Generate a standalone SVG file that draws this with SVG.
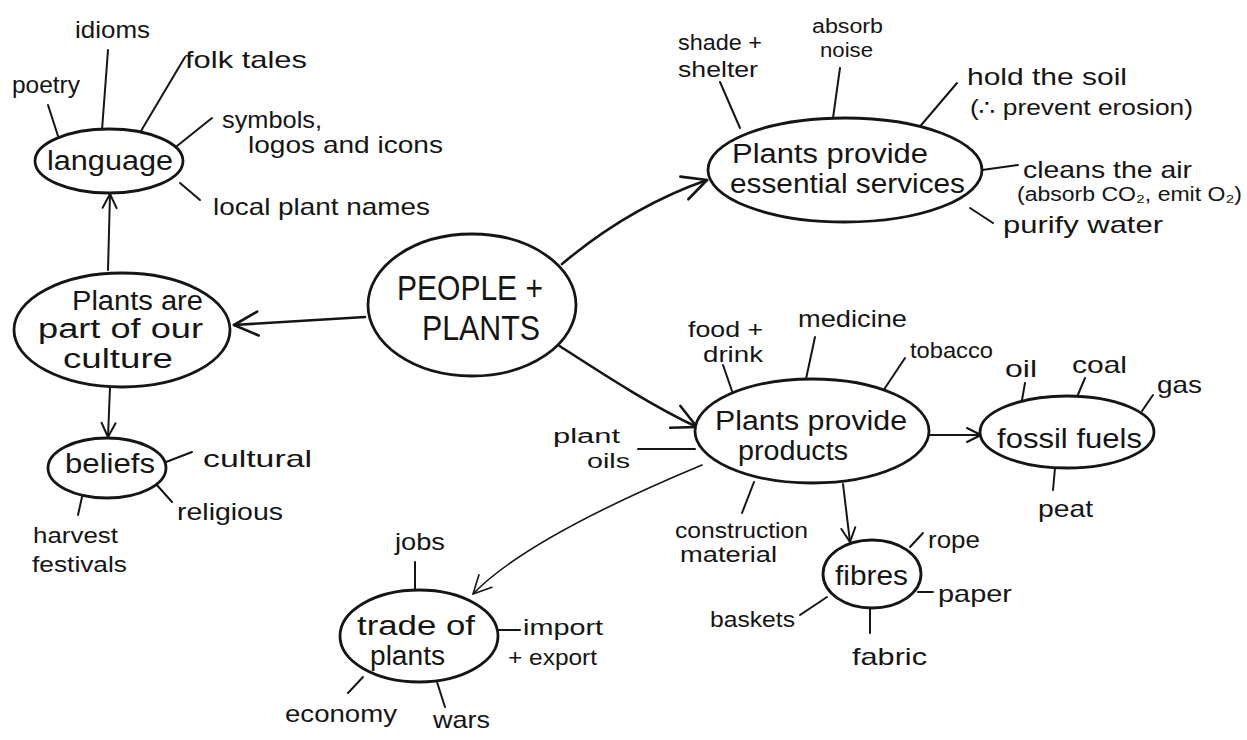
<svg xmlns="http://www.w3.org/2000/svg" width="1247" height="740" viewBox="0 0 1247 740">
<style>
  text { font-family: "Liberation Sans", Arial, "DejaVu Sans", sans-serif; fill: #151515; }
  .lbl { font-size: 24px; }
  .sm { font-size: 22px; }
  .xs { font-size: 20px; }
  .nt { font-size: 27px; }
  .big { font-size: 35px; }
  .node ellipse { fill: #fff; stroke: #151515; stroke-width: 2.8; }
  .conn path, .conn line { fill: none; stroke: #151515; stroke-linecap: round; }
  .stem { stroke-width: 2; }
  .arr { stroke-width: 2.6; }
  .thin { stroke-width: 1.6; }
</style>
<defs>
  <marker id="ahL" markerUnits="userSpaceOnUse" markerWidth="30" markerHeight="30" refX="26" refY="15" orient="auto" overflow="visible">
    <path d="M2,3 L26,15 L2,27" fill="none" stroke="#151515" stroke-width="2.6" stroke-linecap="round" stroke-linejoin="round"/>
  </marker>
  <marker id="ahS" markerUnits="userSpaceOnUse" markerWidth="18" markerHeight="18" refX="15" refY="9" orient="auto" overflow="visible">
    <path d="M1,2 L15,9 L1,16" fill="none" stroke="#151515" stroke-width="2" stroke-linecap="round" stroke-linejoin="round"/>
  </marker>
  <marker id="ahT" markerUnits="userSpaceOnUse" markerWidth="22" markerHeight="22" refX="19" refY="11" orient="auto" overflow="visible">
    <path d="M1,2 L19,11 L1,20" fill="none" stroke="#151515" stroke-width="1.6" stroke-linecap="round" stroke-linejoin="round"/>
  </marker>
</defs>
<rect width="1247" height="740" fill="#ffffff"/>

<g id="connectors" class="conn">
  <path class="arr" d="M365,317 L234,325" marker-end="url(#ahL)"/>
  <path class="stem" d="M108,270 L110,194" marker-end="url(#ahS)"/>
  <path class="stem" d="M110,387 L108,437" marker-end="url(#ahS)"/>
  <path class="arr" d="M562,264 C600,232 650,200 707,180" marker-end="url(#ahL)"/>
  <path class="arr" d="M558,345 C600,372 650,405 697,427" marker-end="url(#ahL)"/>
  <path class="stem" d="M930,435 L981,435" marker-end="url(#ahS)"/>
  <path class="stem" d="M843,484 L850,542" marker-end="url(#ahS)"/>
  <path class="thin" d="M702,465 C630,495 520,545 473,594" marker-end="url(#ahT)"/>
  <line class="stem" x1="48" y1="105" x2="58" y2="136"/>
  <line class="stem" x1="108" y1="50" x2="102" y2="130"/>
  <line class="stem" x1="185" y1="57" x2="138" y2="136"/>
  <line class="stem" x1="212" y1="118" x2="177" y2="146"/>
  <line class="stem" x1="200" y1="200" x2="180" y2="183"/>
  <line class="stem" x1="166" y1="462" x2="192" y2="452"/>
  <line class="stem" x1="156" y1="484" x2="172" y2="502"/>
  <line class="stem" x1="82" y1="497" x2="78" y2="515"/>
  <line class="stem" x1="720" y1="82" x2="740" y2="128"/>
  <line class="stem" x1="840" y1="68" x2="833" y2="118"/>
  <line class="stem" x1="957" y1="83" x2="917" y2="130"/>
  <line class="stem" x1="982" y1="170" x2="1018" y2="165"/>
  <line class="stem" x1="970" y1="208" x2="993" y2="223"/>
  <line class="stem" x1="723" y1="365" x2="732" y2="391"/>
  <line class="stem" x1="815" y1="337" x2="806" y2="379"/>
  <line class="stem" x1="905" y1="358" x2="883" y2="391"/>
  <line class="stem" x1="638" y1="449" x2="695" y2="449"/>
  <line class="stem" x1="754" y1="482" x2="742" y2="513"/>
  <line class="stem" x1="1025" y1="383" x2="1022" y2="400"/>
  <line class="stem" x1="1085" y1="378" x2="1077" y2="397"/>
  <line class="stem" x1="1153" y1="395" x2="1142" y2="411"/>
  <line class="stem" x1="1055" y1="468" x2="1053" y2="490"/>
  <line class="stem" x1="923" y1="533" x2="910" y2="547"/>
  <line class="stem" x1="918" y1="592" x2="933" y2="592"/>
  <line class="stem" x1="827" y1="597" x2="800" y2="615"/>
  <line class="stem" x1="870" y1="608" x2="870" y2="633"/>
  <line class="stem" x1="415" y1="562" x2="415" y2="590"/>
  <line class="stem" x1="498" y1="630" x2="520" y2="630"/>
  <line class="stem" x1="363" y1="677" x2="348" y2="693"/>
  <line class="stem" x1="437" y1="682" x2="445" y2="707"/>
</g>

<g id="people-plants" class="node">
  <ellipse cx="472" cy="305" rx="104" ry="71"/>
  <text class="big" x="397" y="300" textLength="146" lengthAdjust="spacingAndGlyphs">PEOPLE +</text>
  <text class="big" x="422" y="340" textLength="118" lengthAdjust="spacingAndGlyphs">PLANTS</text>
</g>

<g id="culture" class="node">
  <ellipse cx="122" cy="330" rx="108" ry="57"/>
  <text class="nt" x="72" y="310" textLength="131" lengthAdjust="spacingAndGlyphs">Plants are</text>
  <text class="nt" x="38" y="338" textLength="165" lengthAdjust="spacingAndGlyphs">part of our</text>
  <text class="nt" x="63" y="368" textLength="110" lengthAdjust="spacingAndGlyphs">culture</text>
</g>

<g id="language" class="node">
  <ellipse cx="109" cy="161" rx="74" ry="32"/>
  <text class="nt" x="47" y="170" textLength="126" lengthAdjust="spacingAndGlyphs">language</text>
</g>
<g id="idioms"><text class="lbl" x="75" y="38" textLength="75" lengthAdjust="spacingAndGlyphs">idioms</text></g>
<g id="folk-tales"><text class="lbl" x="185" y="68" textLength="122" lengthAdjust="spacingAndGlyphs">folk tales</text></g>
<g id="poetry"><text class="lbl" x="12" y="93" textLength="68" lengthAdjust="spacingAndGlyphs">poetry</text></g>
<g id="symbols">
  <text class="lbl" x="222" y="128" textLength="100" lengthAdjust="spacingAndGlyphs">symbols,</text>
  <text class="lbl" x="248" y="153" textLength="195" lengthAdjust="spacingAndGlyphs">logos and icons</text>
</g>
<g id="local-names"><text class="lbl" x="213" y="215" textLength="217" lengthAdjust="spacingAndGlyphs">local plant names</text></g>

<g id="beliefs" class="node">
  <ellipse cx="107" cy="468" rx="59" ry="30"/>
  <text class="nt" x="65" y="473" textLength="90" lengthAdjust="spacingAndGlyphs">beliefs</text>
</g>
<g id="cultural"><text class="lbl" x="203" y="467" textLength="109" lengthAdjust="spacingAndGlyphs">cultural</text></g>
<g id="religious"><text class="lbl" x="177" y="520" textLength="106" lengthAdjust="spacingAndGlyphs">religious</text></g>
<g id="harvest">
  <text class="sm" x="33" y="543" textLength="85" lengthAdjust="spacingAndGlyphs">harvest</text>
  <text class="sm" x="32" y="572" textLength="95" lengthAdjust="spacingAndGlyphs">festivals</text>
</g>

<g id="services" class="node">
  <ellipse cx="845" cy="170" rx="137" ry="52"/>
  <text class="nt" x="732" y="163" textLength="196" lengthAdjust="spacingAndGlyphs">Plants provide</text>
  <text class="nt" x="730" y="193" textLength="235" lengthAdjust="spacingAndGlyphs">essential services</text>
</g>
<g id="shade">
  <text class="sm" x="678" y="50" textLength="84" lengthAdjust="spacingAndGlyphs">shade +</text>
  <text class="sm" x="678" y="77" textLength="80" lengthAdjust="spacingAndGlyphs">shelter</text>
</g>
<g id="noise">
  <text class="xs" x="812" y="33" textLength="71" lengthAdjust="spacingAndGlyphs">absorb</text>
  <text class="xs" x="820" y="57" textLength="53" lengthAdjust="spacingAndGlyphs">noise</text>
</g>
<g id="soil">
  <text class="lbl" x="967" y="85" textLength="160" lengthAdjust="spacingAndGlyphs">hold the soil</text>
  <text class="sm" x="970" y="115" textLength="223" lengthAdjust="spacingAndGlyphs">(∴ prevent erosion)</text>
</g>
<g id="air">
  <text class="lbl" x="1023" y="178" textLength="169" lengthAdjust="spacingAndGlyphs">cleans the air</text>
  <text class="xs" x="1017" y="201" textLength="225" lengthAdjust="spacingAndGlyphs">(absorb CO₂, emit O₂)</text>
</g>
<g id="water"><text class="lbl" x="1003" y="233" textLength="160" lengthAdjust="spacingAndGlyphs">purify water</text></g>

<g id="products" class="node">
  <ellipse cx="812" cy="431" rx="117" ry="52"/>
  <text class="nt" x="715" y="430" textLength="192" lengthAdjust="spacingAndGlyphs">Plants provide</text>
  <text class="nt" x="738" y="460" textLength="110" lengthAdjust="spacingAndGlyphs">products</text>
</g>
<g id="food">
  <text class="sm" x="688" y="337" textLength="75" lengthAdjust="spacingAndGlyphs">food +</text>
  <text class="sm" x="703" y="362" textLength="60" lengthAdjust="spacingAndGlyphs">drink</text>
</g>
<g id="medicine"><text class="lbl" x="798" y="327" textLength="109" lengthAdjust="spacingAndGlyphs">medicine</text></g>
<g id="tobacco"><text class="sm" x="910" y="358" textLength="83" lengthAdjust="spacingAndGlyphs">tobacco</text></g>
<g id="plant-oils">
  <text class="xs" x="553" y="443" textLength="67" lengthAdjust="spacingAndGlyphs">plant</text>
  <text class="xs" x="587" y="468" textLength="43" lengthAdjust="spacingAndGlyphs">oils</text>
</g>
<g id="construction">
  <text class="sm" x="675" y="538" textLength="133" lengthAdjust="spacingAndGlyphs">construction</text>
  <text class="sm" x="680" y="562" textLength="97" lengthAdjust="spacingAndGlyphs">material</text>
</g>

<g id="fossil-fuels" class="node">
  <ellipse cx="1067" cy="432" rx="87" ry="36"/>
  <text class="nt" x="997" y="448" textLength="145" lengthAdjust="spacingAndGlyphs">fossil fuels</text>
</g>
<g id="oil"><text class="lbl" x="1005" y="377" textLength="32" lengthAdjust="spacingAndGlyphs">oil</text></g>
<g id="coal"><text class="lbl" x="1072" y="373" textLength="55" lengthAdjust="spacingAndGlyphs">coal</text></g>
<g id="gas"><text class="lbl" x="1157" y="393" textLength="45" lengthAdjust="spacingAndGlyphs">gas</text></g>
<g id="peat"><text class="lbl" x="1038" y="517" textLength="55" lengthAdjust="spacingAndGlyphs">peat</text></g>

<g id="fibres" class="node">
  <ellipse cx="872" cy="574" rx="49" ry="34"/>
  <text class="nt" x="835" y="585" textLength="73" lengthAdjust="spacingAndGlyphs">fibres</text>
</g>
<g id="rope"><text class="lbl" x="928" y="548" textLength="52" lengthAdjust="spacingAndGlyphs">rope</text></g>
<g id="paper"><text class="lbl" x="938" y="602" textLength="74" lengthAdjust="spacingAndGlyphs">paper</text></g>
<g id="baskets"><text class="sm" x="710" y="627" textLength="85" lengthAdjust="spacingAndGlyphs">baskets</text></g>
<g id="fabric"><text class="lbl" x="852" y="665" textLength="75" lengthAdjust="spacingAndGlyphs">fabric</text></g>

<g id="trade" class="node">
  <ellipse cx="419" cy="636" rx="79" ry="46"/>
  <text class="nt" x="357" y="635" textLength="118" lengthAdjust="spacingAndGlyphs">trade of</text>
  <text class="nt" x="370" y="665" textLength="75" lengthAdjust="spacingAndGlyphs">plants</text>
</g>
<g id="jobs"><text class="lbl" x="395" y="550" textLength="50" lengthAdjust="spacingAndGlyphs">jobs</text></g>
<g id="import">
  <text class="sm" x="523" y="635" textLength="80" lengthAdjust="spacingAndGlyphs">import</text>
  <text class="sm" x="508" y="665" textLength="89" lengthAdjust="spacingAndGlyphs">+ export</text>
</g>
<g id="economy"><text class="lbl" x="285" y="722" textLength="112" lengthAdjust="spacingAndGlyphs">economy</text></g>
<g id="wars"><text class="lbl" x="433" y="728" textLength="57" lengthAdjust="spacingAndGlyphs">wars</text></g>
</svg>
